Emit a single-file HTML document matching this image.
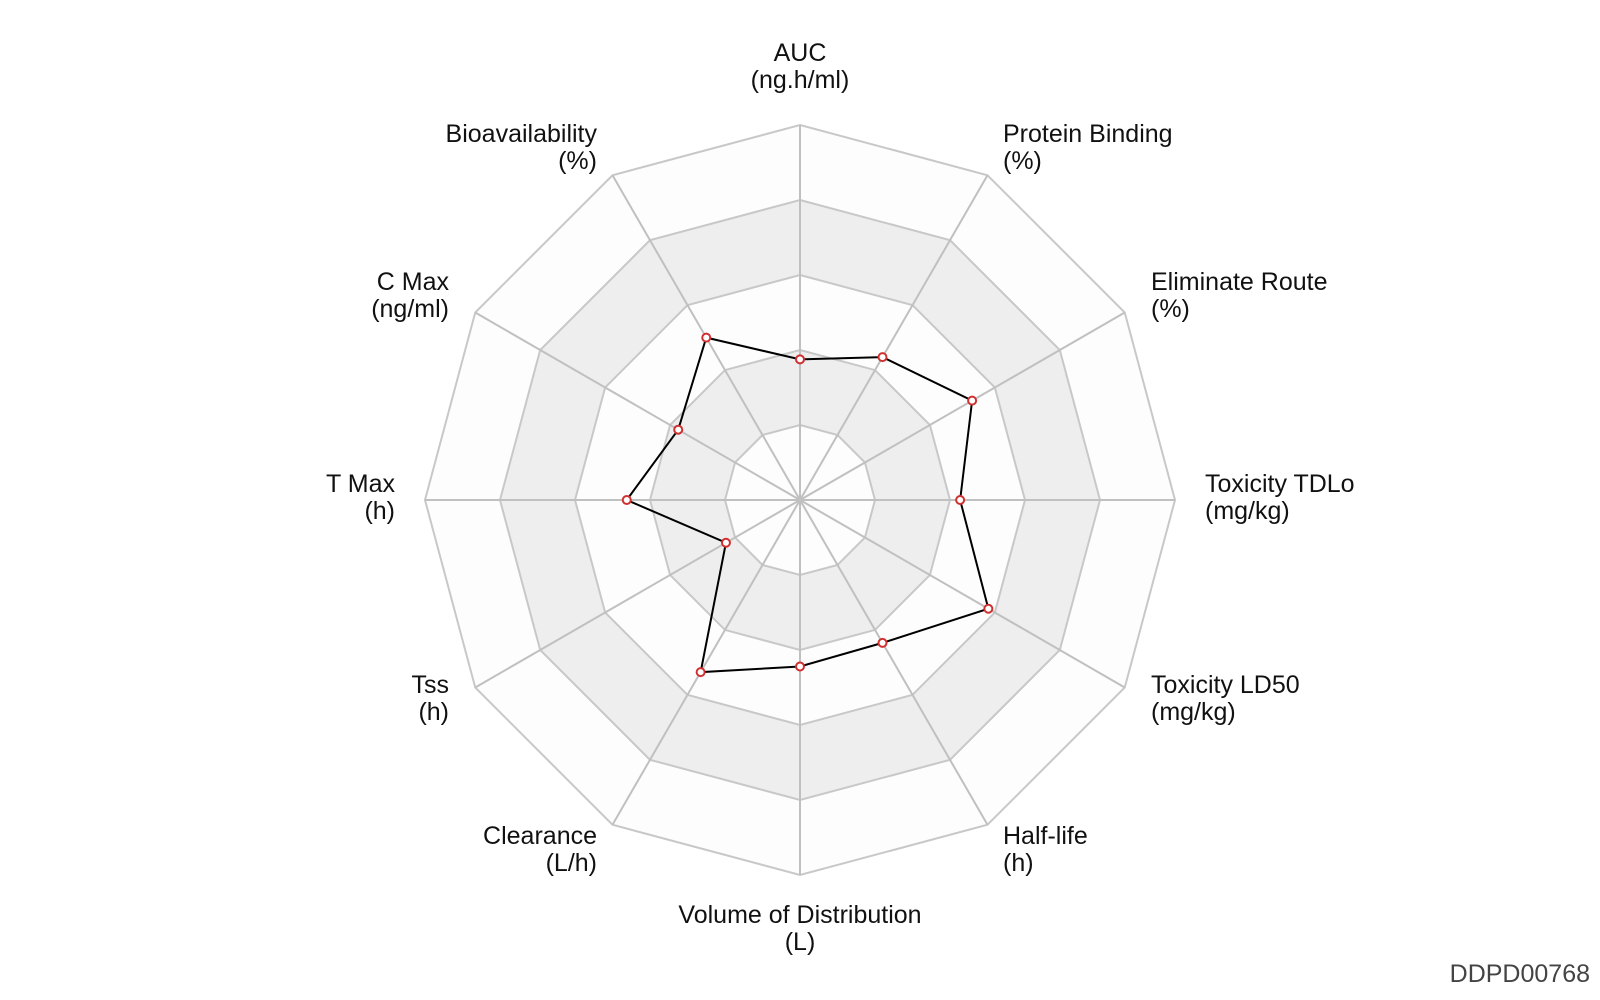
<!DOCTYPE html>
<html><head><meta charset="utf-8"><style>
html,body{margin:0;padding:0;background:#fff;}
svg{display:block;font-family:"Liberation Sans",sans-serif;}
</style></head><body>
<svg id="chart" width="1600" height="1000">
<g id="grid"></g>
<g id="axes"></g>
<g id="series"></g>
<g id="labels"></g>
<text x="1590" y="982" text-anchor="end" font-size="25" fill="#444">DDPD00768</text>
</svg>
<script>
const categories = ["AUC","Protein Binding","Eliminate Route","Toxicity TDLo","Toxicity LD50","Half-life","Volume of Distribution","Clearance","Tss","T Max","C Max","Bioavailability"];
const units = ["(ng.h/ml)","(%)","(%)","(mg/kg)","(mg/kg)","(h)","(L)","(L/h)","(h)","(h)","(ng/ml)","(%)"];
const values = [0.375,0.44,0.53,0.427,0.58,0.44,0.444,0.53,0.228,0.462,0.375,0.50];
const levels = [1,2,3,4,5];

const NS="http://www.w3.org/2000/svg";
const cx=800, cy=500, R=375, N=categories.length;
function ang(i){return i*2*Math.PI/N;}
function px(i,v){return cx+Math.sin(ang(i))*v*R;}
function py(i,v){return cy-Math.cos(ang(i))*v*R;}
function mk(tag,attrs,parent){const e=document.createElementNS(NS,tag);for(const k in attrs)e.setAttribute(k,attrs[k]);parent.appendChild(e);return e;}
const grid=document.getElementById('grid');
const fills=["#fdfdfd","#eeeeee","#fdfdfd","#eeeeee","#fdfdfd"];
for(let l=levels.length-1;l>=0;l--){
  const f=levels[l]/levels.length;
  let pts=[];for(let i=0;i<N;i++)pts.push(px(i,f)+","+py(i,f));
  const p=mk('polygon',{points:pts.join(' '),fill:fills[l],stroke:"#c8c8c8","stroke-width":2},grid);
  
  
}
const axes=document.getElementById('axes');
for(let i=0;i<N;i++){
  const a=mk('line',{x1:cx,y1:cy,x2:px(i,1),y2:py(i,1),stroke:"#c0c0c0","stroke-width":2},axes);
  
  
}
const ser=document.getElementById('series');
let pts=[];for(let i=0;i<N;i++)pts.push(px(i,values[i])+","+py(i,values[i]));
const poly=mk('polygon',{points:pts.join(' '),fill:"none",stroke:"#000","stroke-width":2},ser);


for(let i=0;i<N;i++){
  const c=mk('circle',{cx:px(i,values[i]),cy:py(i,values[i]),r:4,fill:"#fff",stroke:"#d03030","stroke-width":2},ser);
  
  
}
const lpos=[[800,53,"middle"],[1003,134,"start"],[1151,282,"start"],[1205,484,"start"],[1151,685,"start"],[1003,836,"start"],[800,915,"middle"],[597,836,"end"],[449,685,"end"],[395,484,"end"],[449,282,"end"],[597,134,"end"]];
const lab=document.getElementById('labels');
for(let i=0;i<N;i++){
  const [x,y,an]=lpos[i];
  const t1=mk('text',{x:x,y:y,"text-anchor":an,"dominant-baseline":"central","font-size":25,fill:"#111"},lab);
  t1.textContent=categories[i];
  
  
  const t2=mk('text',{x:x,y:y+27,"text-anchor":an,"dominant-baseline":"central","font-size":25,fill:"#111"},lab);
  t2.textContent=units[i];
  
  
}
</script>
</body></html>
